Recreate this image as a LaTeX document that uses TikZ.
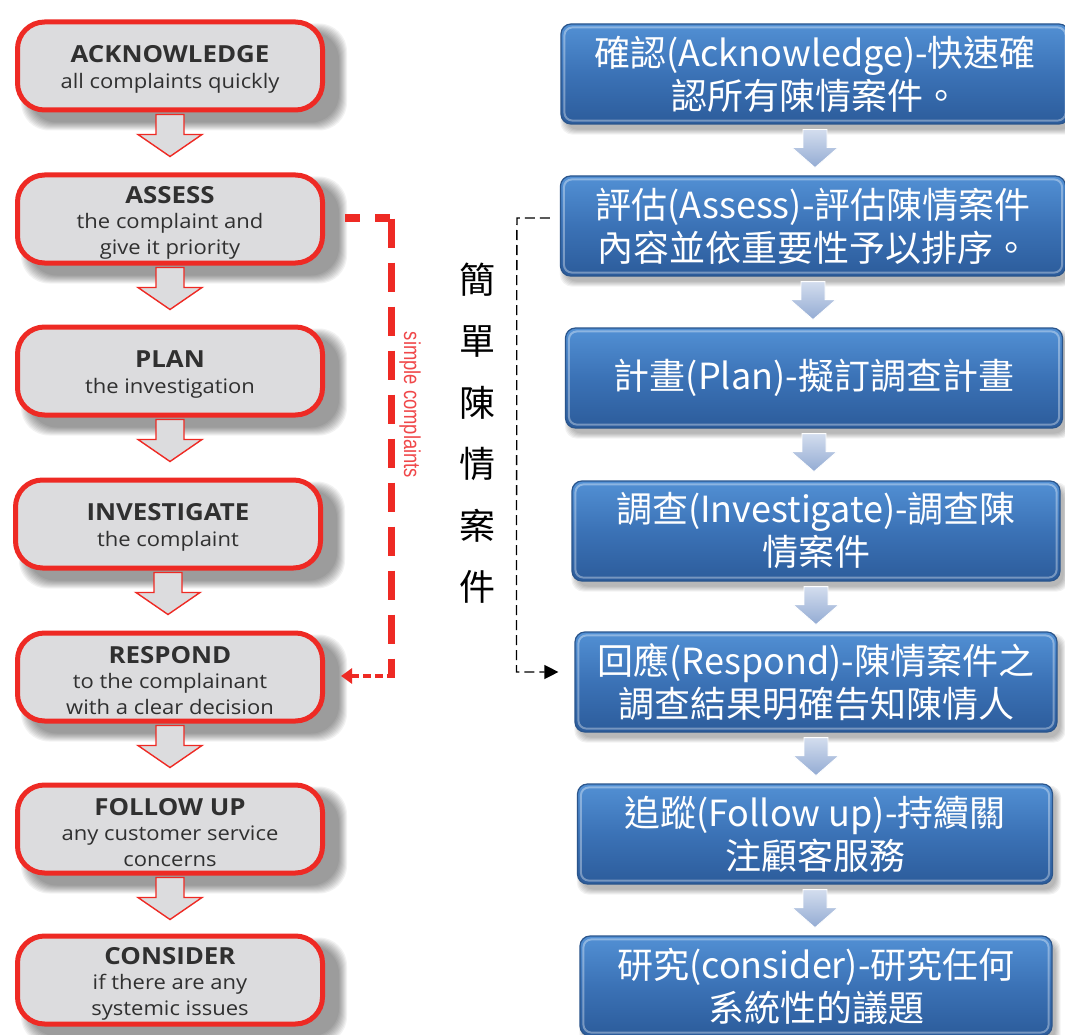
\documentclass[tikz,border=0pt]{standalone}
\usepackage{fontspec}
\setmainfont[FakeStretch=1.1]{Open Sans}
\newfontfamily\cjk{Noto Sans CJK TC}
\newfontfamily\narrowf[FakeStretch=0.8]{Liberation Sans}
\usetikzlibrary{arrows.meta,calc,backgrounds}
\definecolor{redb}{HTML}{EE2A24}
\definecolor{redt}{HTML}{F0484A}
\definecolor{greyf}{HTML}{DCDCDE}
\definecolor{txtg}{HTML}{303030}
\definecolor{bluetop}{HTML}{5290D4}
\definecolor{bluemid}{HTML}{3B72B6}
\definecolor{bluebot}{HTML}{2C5C9B}
\definecolor{blueline}{HTML}{2A558C}
\definecolor{arrtop}{HTML}{D3DDEE}
\definecolor{arrbot}{HTML}{93ABD3}
\tikzset{
  lbox/.style={rectangle, rounded corners=27, draw=redb, line width=5, fill=greyf,
    minimum width=305, minimum height=88, align=center, text=txtg,
    font=\fontsize{20}{25.5}\selectfont},
  rbox/.style={rectangle, rounded corners=10, draw=blueline, line width=1.2,
    top color=bluetop, bottom color=bluebot, middle color=bluemid,
    minimum height=100, align=center, text=white,
    font=\cjk\fontsize{36}{43}\selectfont},
  redarr/.style={fill=greyf, draw=redb, line width=1.4, line join=miter},
  bluearr/.style={top color=arrtop, bottom color=arrbot, draw=white, line width=0.8},
}
\newcommand{\ttl}[1]{{\bfseries\fontsize{23.5}{25.5}\selectfont\rule{0pt}{24pt}#1}}
\newcommand{\redarrow}[1]{%
  \path[redarr] ($(#1.south)+(-14,2)$) -- ($(#1.south)+(-14,22)$) -- ($(#1.south)+(-32,22)$)
    -- ($(#1.south)+(0,44)$) -- ($(#1.south)+(32,22)$) -- ($(#1.south)+(14,22)$)
    -- ($(#1.south)+(14,2)$) -- cycle;}
\newcommand{\bluearrow}[1]{%
  \path[bluearr] ($(#1.south)+(-12,5)$) -- ($(#1.south)+(-12,23)$) -- ($(#1.south)+(-23,23)$)
    -- ($(#1.south)+(0,43)$) -- ($(#1.south)+(23,23)$) -- ($(#1.south)+(12,23)$)
    -- ($(#1.south)+(12,5)$) -- cycle;}
\newcommand{\lshadow}[1]{%
  \foreach \i in {0,...,8}{%
    \fill[black,opacity=0.05,rounded corners=28]
      ($(#1.north west)+({6+\i},{4+\i})$) rectangle ($(#1.south east)+({22-\i},{18-\i})$);}}
\newcommand{\rshadow}[1]{%
  \foreach \i in {0,...,5}{%
    \fill[black,opacity=0.05,rounded corners=12]
      ($(#1.north west)+({0+\i},{2+\i})$) rectangle ($(#1.south east)+({8-\i},{10-\i})$);}}
\newcommand{\bevel}[1]{%
  \draw[white,opacity=0.35,line width=2,rounded corners=8]
    ($(#1.north west)+(4,4)$) rectangle ($(#1.south east)+(-4,-4)$);}
\begin{document}
\begin{tikzpicture}[x=1pt,y=-1pt]
\useasboundingbox (0,0) rectangle (1065,1035);

% left column
\node[lbox] (L1) at (170,66)  {\ttl{ACKNOWLEDGE}\\all complaints quickly};
\node[lbox] (L2) at (170,219) {\ttl{ASSESS}\\the complaint and\\give it priority};
\node[lbox] (L3) at (170,371) {\ttl{PLAN}\\the investigation};
\node[lbox] (L4) at (168,524) {\ttl{INVESTIGATE}\\the complaint};
\node[lbox] (L5) at (170,677) {\ttl{RESPOND}\\to the complainant\\with a clear decision};
\node[lbox] (L6) at (170,829) {\ttl{FOLLOW UP}\\any customer service\\concerns};
\node[lbox] (L7) at (170,980) {\ttl{CONSIDER}\\if there are any\\systemic issues};

% right column
\node[rbox, minimum width=508] (R1) at (815,74)  {確認(Acknowledge)-快速確\\認所有陳情案件。};
\node[rbox, minimum width=505] (R2) at (813,226) {評估(Assess)-評估陳情案件\\內容並依重要性予以排序。};
\node[rbox, minimum width=497] (R3) at (814,378) {計畫(Plan)-擬訂調查計畫};
\node[rbox, minimum width=488] (R4) at (816,531) {調查(Investigate)-調查陳\\情案件};
\node[rbox, minimum width=482] (R5) at (816,682) {回應(Respond)-陳情案件之\\調查結果明確告知陳情人};
\node[rbox, minimum width=475] (R6) at (815,834) {追蹤(Follow up)-持續關\\注顧客服務};
\node[rbox, minimum width=472] (R7) at (816,986) {研究(consider)-研究任何\\系統性的議題};

\foreach \n in {R1,R2,R3,R4,R5,R6,R7}{\bevel{\n}}

\begin{scope}[on background layer]
  \fill[white] (0,0) rectangle (1065,1035);
  \foreach \n in {L1,L2,L3,L4,L5,L6,L7}{\lshadow{\n}}
  \foreach \n in {R1,R2,R3,R4,R5,R6,R7}{\rshadow{\n}}
  \foreach \n in {L1,L2,L3,L4,L5,L6}{\redarrow{\n}}
  \foreach \n in {R1,R2,R3,R4,R5,R6}{\bluearrow{\n}}
\end{scope}

% simple complaints (red dashed)
\coordinate (rs)  at ($(L2.east)+(20,-1)$);
\coordinate (rc1) at ($(L2.east)+(66,-1)$);
\coordinate (rc2) at ($(L5.east)+(66,-1)$);
\coordinate (re)  at ($(L5.east)+(16,-1)$);
\draw[redb, line width=7, dash pattern=on 15 off 15] (rs) -- (rc1);
\draw[redb, line width=7, dash pattern=on 29 off 15, dash phase=-4] ($(rc1)+(0,-3.5)$) -- (rc2);
\draw[redb, line width=4, dash pattern=on 8 off 4, -{Triangle[length=11,width=15]}] ($(rc2)+(3.5,0)$) -- (re);
\node[rotate=-90, text=redt, font=\narrowf\fontsize{23}{26}\selectfont] (sc) at (410,405) {simple complaints};

% Chinese bracket
\node[font=\cjk\fontsize{36}{61.5}\selectfont, align=center] (vt) at (477,433) {簡\\單\\陳\\情\\案\\件};
\coordinate (bs) at ($(R2.west)+(-10,-8)$);
\coordinate (bc1) at ($(R2.west)+(-43,-8)$);
\coordinate (bc2) at ($(R5.west)+(-58,-10)$);
\coordinate (be) at ($(R5.west)+(-16,-10)$);
\draw[black, line width=1.3, dash pattern=on 10 off 5, -{Triangle[length=14,width=14]}] (bs) -- (bc1) -- (bc2) -- (be);
\end{tikzpicture}
\end{document}
